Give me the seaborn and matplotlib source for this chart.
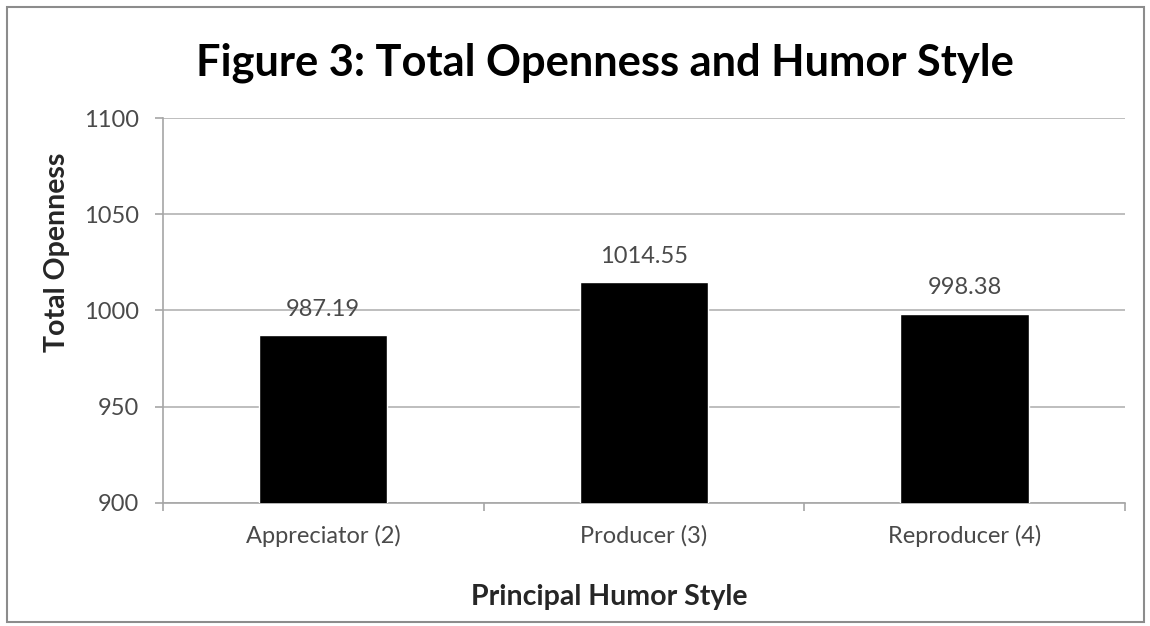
import matplotlib
matplotlib.use('Agg')
import matplotlib.pyplot as plt
import seaborn as sns
import pandas as pd
from matplotlib.patches import Rectangle

# chart data
categories = ['Appreciator (2)', 'Producer (3)', 'Reproducer (4)']
openness = [987.19, 1014.55, 998.38]
y_ticks = [900, 950, 1000, 1050, 1100]

df = pd.DataFrame({'style': categories, 'openness': openness})

sns.set_style('white')
plt.rcParams['font.family'] = ['Lato', 'DejaVu Sans']

fig = plt.figure(figsize=(11.5, 6.26), dpi=100)
ax = fig.add_axes([0.1417, 0.1965, 0.8363, 0.615])

sns.barplot(data=df, x='style', y='openness', color='black', width=0.4,
            saturation=1, ax=ax, zorder=3)

ax.set_ylim(900, 1100)
ax.set_yticks(y_ticks)
ax.set_xlim(-0.5, 2.5)
ax.yaxis.grid(True, color='#b3b3b3', linewidth=1.2, zorder=0)
ax.set_axisbelow(True)

for side in ['top', 'right']:
    ax.spines[side].set_visible(False)
for side in ['left', 'bottom']:
    ax.spines[side].set_color('#a6a6a6')
    ax.spines[side].set_linewidth(1.2)

# tick marks at category boundaries like excel
ax.set_xticks([0, 1, 2])
ax.set_xticks([-0.5, 0.5, 1.5, 2.5], minor=True)
ax.tick_params(axis='x', which='major', length=0, pad=16, labelsize=17, labelcolor='#4a4a4a')
ax.tick_params(axis='x', which='minor', length=6, width=1.2, color='#a6a6a6', direction='out')
ax.tick_params(axis='y', length=6, width=1.2, color='#a6a6a6', direction='out',
               pad=11, labelsize=17, labelcolor='#4a4a4a')
ax.tick_params(bottom=True, left=True, which='both')

for i, v in enumerate(openness):
    ax.text(i, v + 8, f'{v:.2f}', ha='center', va='bottom', fontsize=17, color='#4a4a4a')

ax.set_xlabel('Principal Humor Style', fontsize=20.5, fontweight='bold')
ax.set_ylabel('Total Openness', fontsize=20.5, fontweight='bold')
ax.xaxis.set_label_coords(0.4636, -0.21)
ax.yaxis.set_label_coords(-0.097, 0.652)

fig.text(0.526, 0.90, 'Figure 3: Total Openness and Humor Style', ha='center', va='center',
         fontsize=31.2, fontweight='bold', color='black')

# chart frame
fig.patches.append(Rectangle((0.006, 0.007), 0.989, 0.982, transform=fig.transFigure,
                             fill=False, edgecolor='#8c8c8c', linewidth=1.5))

fig.savefig('out.png', dpi=100)
